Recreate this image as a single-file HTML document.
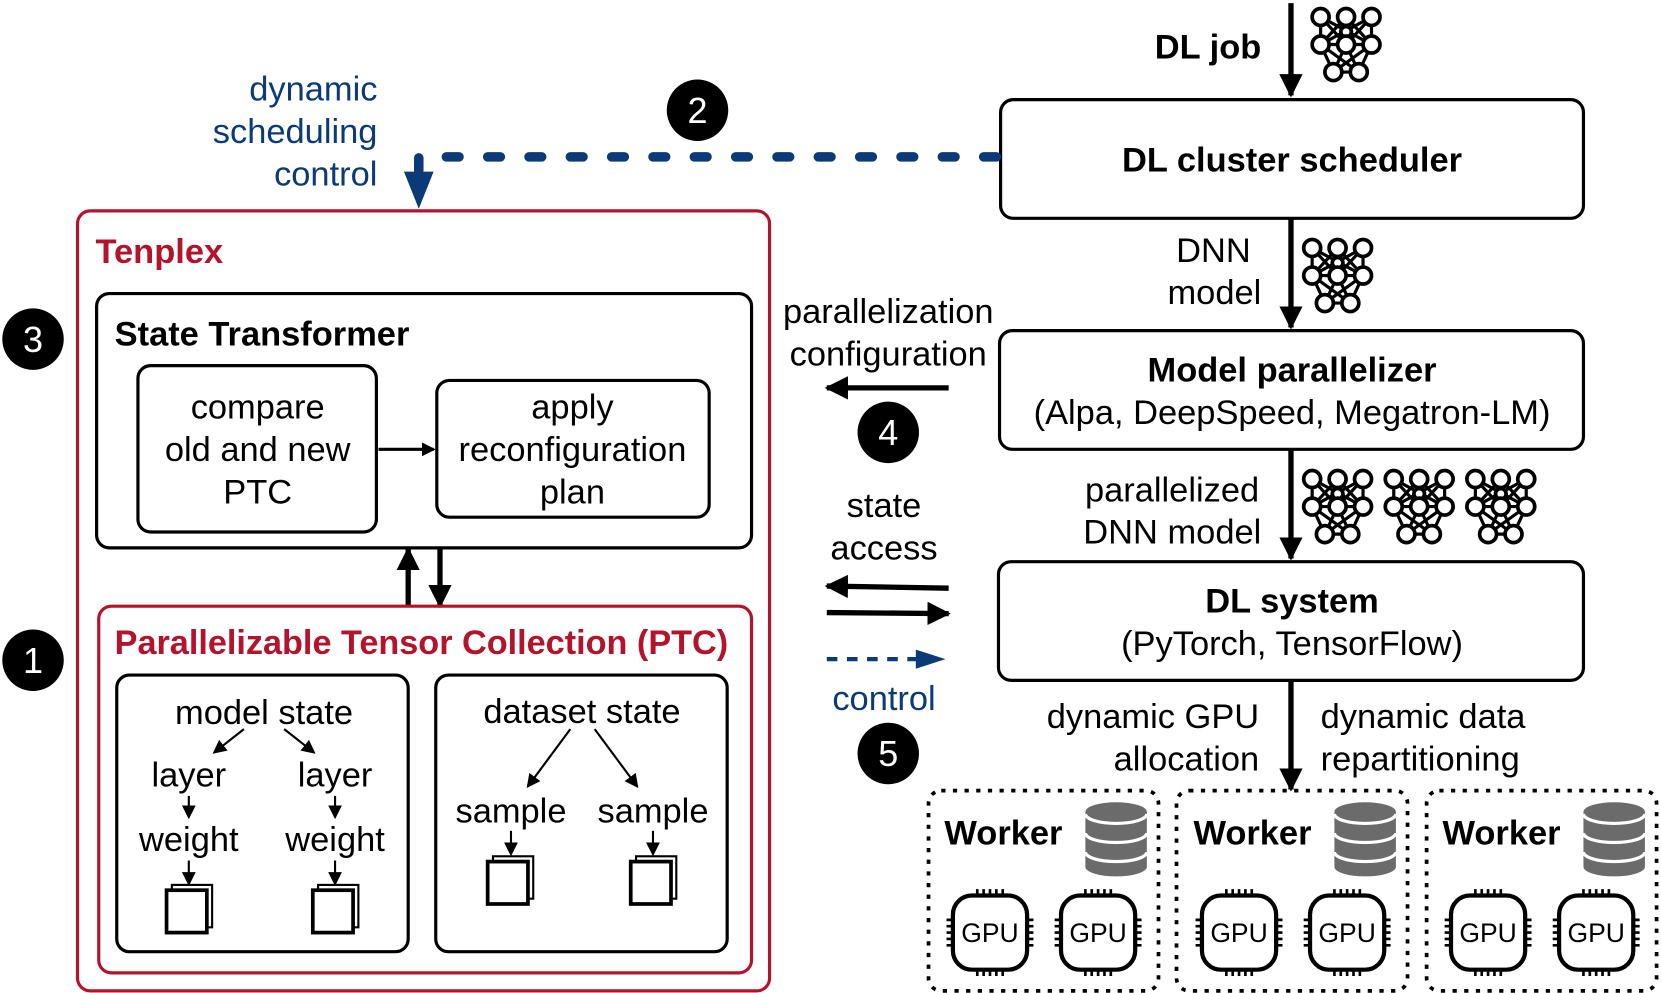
<!DOCTYPE html>
<html><head><meta charset="utf-8"><style>
html,body{margin:0;padding:0;background:#fff;}
svg{display:block;}
text{font-family:"Liberation Sans",Arial,sans-serif;font-size:32.5px;fill:#000;}
.b{font-weight:bold;}
.m{text-anchor:middle;}
.e{text-anchor:end;}
.blue{fill:#0b3a78;}
.red{fill:#b3142b;}
</style></head><body>
<svg width="1661" height="993" viewBox="0 0 1567 937" xmlns="http://www.w3.org/2000/svg">
<defs>
<marker id="ah" markerWidth="13" markerHeight="13" refX="11" refY="6.5" orient="auto" markerUnits="userSpaceOnUse" viewBox="0 0 13 13">
<path d="M0,0 L13,6.5 L0,13 z" fill="#000"/></marker>
<marker id="big" markerWidth="22" markerHeight="22" refX="20" refY="11" orient="auto" markerUnits="userSpaceOnUse" viewBox="0 0 22 22">
<path d="M0,0 L22,11 L0,22 z" fill="#000"/></marker>
<g id="nn" fill="#fff" stroke="#000" stroke-width="3.5">
<path d="M10,10 L10,36 L34,36 L58,36 L58,10 M10,10 L34,36 L58,10 M34,10 L10,36 M34,10 L58,36 M34,10 L34,36 M10,10 L58,36 M58,10 L10,36 M10,36 L22,62 L46,62 L58,36 M34,36 L22,62 M34,36 L46,62 M10,36 L46,62 M58,36 L22,62" fill="none" stroke-width="3"/>
<circle cx="10" cy="10" r="8"/><circle cx="34" cy="10" r="8"/><circle cx="58" cy="10" r="8"/>
<circle cx="34" cy="24" r="5"/>
<circle cx="10" cy="36" r="8"/><circle cx="34" cy="36" r="8"/><circle cx="58" cy="36" r="8"/>
<circle cx="22" cy="62" r="8"/><circle cx="46" cy="62" r="8"/>
</g>
<g id="gpu">
<rect x="3" y="3" width="70" height="70" rx="18" fill="#fff" stroke="#000" stroke-width="4"/>
<path d="M26,3v-6M32,3v-6M38,3v-6M44,3v-6M50,3v-6 M26,73v6M32,73v6M38,73v6M44,73v6M50,73v6 M3,26h-6M3,32h-6M3,38h-6M3,44h-6M3,50h-6 M73,26h6M73,32h6M73,38h6M73,44h6M73,50h6" stroke="#000" stroke-width="2.5"/>
<text x="38" y="47" class="m" style="font-size:25px">GPU</text>
</g>
<g id="db">
<path d="M0,10 v52 a29,9 0 0 0 58,0 v-52 z" fill="#6b6b6b"/>
<ellipse cx="29" cy="10" rx="29" ry="9" fill="#6b6b6b"/>
<path d="M0,12 a29,9 0 0 0 58,0 M0,30 a29,9 0 0 0 58,0 M0,48 a29,9 0 0 0 58,0" fill="none" stroke="#fff" stroke-width="3"/>
</g>
<g id="cube" fill="#fff" stroke="#000">
<rect x="5" y="0" width="38" height="40" stroke-width="2"/>
<rect x="0" y="5" width="38" height="40" stroke-width="3.5"/>
</g>
</defs>

<text x="1190" y="55" class="e b">DL job</text>
<line x1="1218" y1="3" x2="1218" y2="90" stroke="#000" stroke-width="5" marker-end="url(#big)"/>
<use href="#nn" x="1236" y="6"/>
<rect x="944" y="94" width="550" height="112" rx="12" fill="#fff" stroke="#000" stroke-width="3"/>
<text x="1219" y="162" class="m b">DL cluster scheduler</text>

<line x1="1218" y1="206" x2="1218" y2="309" stroke="#000" stroke-width="5" marker-end="url(#big)"/>
<text x="1180" y="247" class="e">DNN</text><text x="1190" y="287" class="e">model</text>
<use href="#nn" x="1228" y="224"/>
<rect x="943" y="312" width="551" height="112" rx="12" fill="#fff" stroke="#000" stroke-width="3"/>
<text x="1219" y="360" class="m b">Model parallelizer</text>
<text x="1219" y="400" class="m">(Alpa, DeepSpeed, Megatron-LM)</text>

<line x1="1218" y1="424" x2="1218" y2="527" stroke="#000" stroke-width="5" marker-end="url(#big)"/>
<text x="1188" y="473" class="e">parallelized</text><text x="1190" y="513" class="e">DNN model</text>
<use href="#nn" x="1228" y="442"/><use href="#nn" x="1305" y="442"/><use href="#nn" x="1382" y="442"/>
<rect x="942" y="530" width="552" height="112" rx="12" fill="#fff" stroke="#000" stroke-width="3"/>
<text x="1219" y="578" class="m b">DL system</text>
<text x="1219" y="618" class="m">(PyTorch, TensorFlow)</text>

<line x1="1218" y1="642" x2="1218" y2="745" stroke="#000" stroke-width="5" marker-end="url(#big)"/>
<text x="1188" y="687" class="e">dynamic GPU</text><text x="1188" y="727" class="e">allocation</text>
<text x="1246" y="687">dynamic data</text><text x="1246" y="727">repartitioning</text>

<g>
<rect x="876" y="746" width="217" height="189" rx="12" fill="none" stroke="#000" stroke-width="3.5" stroke-dasharray="4 7"/>
<text x="891" y="797" class="b">Worker</text>
<use href="#db" x="1024" y="756"/>
<use href="#gpu" x="896" y="842"/><use href="#gpu" x="998" y="842"/>
</g>
<g>
<rect x="1110" y="746" width="218" height="189" rx="12" fill="none" stroke="#000" stroke-width="3.5" stroke-dasharray="4 7"/>
<text x="1126" y="797" class="b">Worker</text>
<use href="#db" x="1259" y="756"/>
<use href="#gpu" x="1131" y="842"/><use href="#gpu" x="1233" y="842"/>
</g>
<g>
<rect x="1346" y="746" width="217" height="189" rx="12" fill="none" stroke="#000" stroke-width="3.5" stroke-dasharray="4 7"/>
<text x="1361" y="797" class="b">Worker</text>
<use href="#db" x="1494" y="756"/>
<use href="#gpu" x="1366" y="842"/><use href="#gpu" x="1468" y="842"/>
</g>

<text x="356" y="95" class="e blue">dynamic</text>
<text x="356" y="135" class="e blue">scheduling</text>
<text x="356" y="175" class="e blue">control</text>
<path d="M940,148 L395,148 L395,166" fill="none" stroke="#0b3a78" stroke-width="9" stroke-linecap="round" stroke-dasharray="12 27"/>
<path d="M381,162 L409,162 L395,197 z" fill="#0b3a78"/>
<circle cx="658" cy="104" r="29" fill="#000"/><text x="658" y="116" class="m" style="fill:#fff;font-size:34px">2</text>

<rect x="73" y="199" width="653" height="736" rx="12" fill="none" stroke="#b3142b" stroke-width="3"/>
<text x="90" y="248" class="b red">Tenplex</text>
<circle cx="31" cy="320" r="29" fill="#000"/><text x="31" y="332" class="m" style="fill:#fff;font-size:34px">3</text>
<circle cx="31" cy="623" r="29" fill="#000"/><text x="31" y="635" class="m" style="fill:#fff;font-size:34px">1</text>

<rect x="91" y="277" width="618" height="240" rx="12" fill="#fff" stroke="#000" stroke-width="3"/>
<text x="108" y="326" class="b">State Transformer</text>
<rect x="130" y="345" width="225" height="157" rx="12" fill="#fff" stroke="#000" stroke-width="3"/>
<text x="243" y="395" class="m">compare</text><text x="243" y="435" class="m">old and new</text><text x="243" y="475" class="m">PTC</text>
<line x1="357" y1="424" x2="409" y2="424" stroke="#000" stroke-width="3" marker-end="url(#ah)"/>
<rect x="412" y="359" width="257" height="129" rx="12" fill="#fff" stroke="#000" stroke-width="3"/>
<text x="540" y="395" class="m">apply</text><text x="540" y="435" class="m">reconfiguration</text><text x="540" y="475" class="m">plan</text>

<line x1="385" y1="572" x2="385" y2="518" stroke="#000" stroke-width="5" marker-end="url(#big)"/>
<line x1="415" y1="518" x2="415" y2="572" stroke="#000" stroke-width="5" marker-end="url(#big)"/>

<rect x="93" y="572" width="616" height="346" rx="12" fill="none" stroke="#b3142b" stroke-width="3"/>
<text x="108" y="617" class="b red" style="font-size:32.3px">Parallelizable Tensor Collection (PTC)</text>

<rect x="110" y="637" width="275" height="261" rx="12" fill="#fff" stroke="#000" stroke-width="3"/>
<text x="249" y="683" class="m">model state</text>
<line x1="230" y1="688" x2="202" y2="710" stroke="#000" stroke-width="2" marker-end="url(#ah)"/>
<line x1="268" y1="688" x2="296" y2="710" stroke="#000" stroke-width="2" marker-end="url(#ah)"/>
<text x="178" y="742" class="m">layer</text><text x="316" y="742" class="m">layer</text>
<line x1="178" y1="751" x2="178" y2="771" stroke="#000" stroke-width="2" marker-end="url(#ah)"/>
<line x1="316" y1="751" x2="316" y2="771" stroke="#000" stroke-width="2" marker-end="url(#ah)"/>
<text x="178" y="803" class="m">weight</text><text x="316" y="803" class="m">weight</text>
<line x1="178" y1="812" x2="178" y2="834" stroke="#000" stroke-width="2" marker-end="url(#ah)"/>
<line x1="316" y1="812" x2="316" y2="834" stroke="#000" stroke-width="2" marker-end="url(#ah)"/>
<use href="#cube" x="157" y="835"/><use href="#cube" x="295" y="835"/>

<rect x="411" y="637" width="275" height="261" rx="12" fill="#fff" stroke="#000" stroke-width="3"/>
<text x="549" y="682" class="m">dataset state</text>
<line x1="538" y1="688" x2="498" y2="742" stroke="#000" stroke-width="2" marker-end="url(#ah)"/>
<line x1="561" y1="688" x2="601" y2="742" stroke="#000" stroke-width="2" marker-end="url(#ah)"/>
<text x="482" y="776" class="m">sample</text><text x="616" y="776" class="m">sample</text>
<line x1="482" y1="784" x2="482" y2="806" stroke="#000" stroke-width="2" marker-end="url(#ah)"/>
<line x1="616" y1="784" x2="616" y2="806" stroke="#000" stroke-width="2" marker-end="url(#ah)"/>
<use href="#cube" x="460" y="808"/><use href="#cube" x="595" y="808"/>

<text x="838" y="305" class="m">parallelization</text>
<text x="838" y="345" class="m">configuration</text>
<line x1="895" y1="366" x2="780" y2="366" stroke="#000" stroke-width="5" marker-end="url(#big)"/>
<circle cx="838" cy="408" r="29" fill="#000"/><text x="838" y="420" class="m" style="fill:#fff;font-size:34px">4</text>
<text x="834" y="488" class="m">state</text><text x="834" y="528" class="m">access</text>
<line x1="895" y1="555" x2="780" y2="553" stroke="#000" stroke-width="5" marker-end="url(#big)"/>
<line x1="780" y1="578" x2="895" y2="579" stroke="#000" stroke-width="5" marker-end="url(#big)"/>
<line x1="780" y1="622" x2="866" y2="622" stroke="#0b3a78" stroke-width="4" stroke-dasharray="10 9"/>
<path d="M864,613 L892,622 L864,631 z" fill="#0b3a78"/>
<text x="834" y="670" class="m blue">control</text>
<circle cx="838" cy="711" r="29" fill="#000"/><text x="838" y="723" class="m" style="fill:#fff;font-size:34px">5</text>
</svg>
</body></html>
